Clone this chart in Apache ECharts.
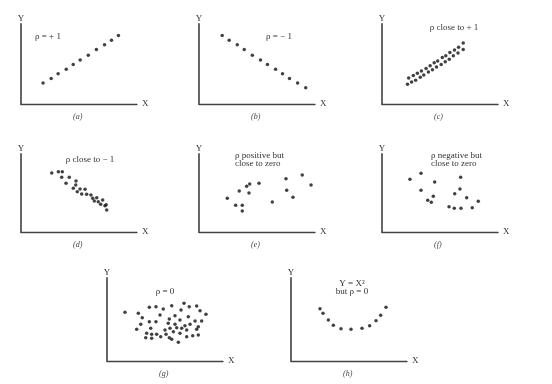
<!DOCTYPE html>
<html>
<head>
<meta charset="utf-8">
<script src="https://cdn.jsdelivr.net/npm/echarts@6/dist/echarts.min.js"></script>
<style>html,body{margin:0;padding:0;background:#fff}#c{width:552px;height:384px}</style>
</head>
<body>
<div id="c"></div>
<script>
// ---- data (arbitrary units) ----
var panelA = [[19,18],[26,22],[32,26],[39,30],[45,34],[51,38],[58,42],[65,47],[72,51],[78,55],[84,59]];
var panelB = [[20,59],[26,55],[33,51],[39,47],[46,42],[53,38],[59,34],[66,30],[72,26],[78,22],[85,18],[92,14]];
var panelC = [[23,22.5],[27,24.5],[30.5,26.5],[34,28.5],[38,30.5],[41.5,33],[45,35.5],[48,37],[52,40],[55,41.5],[58.5,44.5],[62.5,46.5],[66,49],[70,52.5],
              [22,17],[25.5,19],[29,20.5],[33,23],[36,25],[40,27.5],[43.5,29.5],[47,32],[51,34],[54.5,36.5],[58,38.5],[61.5,41.5],[65.5,44],[70,47]];
var panelD = [[26.5,50.9],[32.2,52],[35.6,52],[35.1,47.2],[41.6,47.2],[38.8,42],[47.4,44],[47.2,40.5],[45.1,37.7],[50.9,37.1],[55.2,36.8],[48.5,34.7],
              [52.3,32.8],[56.6,32.5],[60.3,31.9],[61.8,29.1],[65.3,29.6],[63.2,26.7],[66.6,26.1],[70.4,27.6],[68.7,23.9],[72.4,22.7],[73.9,19],[73.4,23.4]];
var panelE = [[24.4,29.1],[31.6,23],[37.3,23],[37.3,18.1],[34.7,35.3],[41.1,39.4],[43.7,41.4],[43.1,33.6],[51.7,42],[63.2,25.9],[75,45.9],[75.6,35.9],[81,29.9],[89,49.1],[96.6,40.5]];
var panelF = [[24.1,45.4],[33.6,50.6],[45.4,43.1],[67.8,47.2],[33.6,35.9],[67.2,37.1],[62.7,33],[44.2,30.8],[73,29.6],[39.4,27.3],[42.5,25.6],[83,26.5],[57.8,21.8],[62.3,20.4],[68.1,20.4],[77.8,20.9]];
var panelG = [[15.5,42],[27,41.1],[36.5,46.3],[42.2,46.8],[48.5,44.8],[55.8,47.7],[63.8,44],[66.4,49.7],[70.9,46.8],[77.3,47.4],[80.2,43.4],[85.3,40.3],
              [30.4,37.3],[45.7,39.7],[53.7,36.2],[58.6,39.1],[62.9,35.3],[70.1,38.2],[75.9,34.5],[81.6,34.5],[36.5,33.9],[42.2,33.9],[29.1,31.6],[52.8,32.5],
              [58.6,31.6],[67.2,30.4],[71.6,31.6],[78.7,29.6],[25.6,27.3],[37.7,28.2],[50,26.7],[54.3,28.2],[60.1,28.7],[64.4,28.2],[68.7,26.7],[77.3,27.3],
              [34.2,23.9],[38.5,23],[42.8,23],[50.9,23],[57.2,25.3],[62.9,23.9],[33.4,20.1],[38.5,19.6],[46.3,20.9],[53.7,20.1],[55.8,18.7],[68.7,20.9],
              [73.9,21.8],[78.7,22.4],[61.5,16.1]];
var panelH = [[25,45.1],[27.6,41.1],[32.2,35.3],[36.5,30.8],[43.1,27.8],[51.7,27.3],[61.2,28.2],[67.8,30.4],[73.3,34.7],[77.3,39.4],[81.9,46.3]];

var captions = ['(a)','(b)','(c)','(d)','(e)','(f)','(g)','(h)'];
var rhoLabels = [
  ['\u03C1 = + 1'],
  ['\u03C1 = \u2212 1'],
  ['\u03C1 close to + 1'],
  ['\u03C1 close to \u2212 1'],
  ['\u03C1 positive but','close to zero'],
  ['\u03C1 negative but','close to zero'],
  ['\u03C1 = 0'],
  ['Y = X\u00B2','but \u03C1 = 0']
];

// ---- layout ----
var PX = 1.16; // pixels per unit
var panels = [
  {data: panelA, left: 21,  top: 24,  h: 80, tx: 35,  ty: 37,  align: 'left'},
  {data: panelB, left: 199, top: 24,  h: 80, tx: 266, ty: 37,  align: 'left'},
  {data: panelC, left: 382, top: 24,  h: 80, tx: 454, ty: 28,  align: 'center'},
  {data: panelD, left: 21,  top: 154, h: 78, tx: 90,  ty: 160, align: 'center'},
  {data: panelE, left: 199, top: 154, h: 78, tx: 235, ty: 156, align: 'left'},
  {data: panelF, left: 382, top: 154, h: 78, tx: 431, ty: 156, align: 'left'},
  {data: panelG, left: 107, top: 278, h: 83, tx: 165, ty: 292, align: 'center'},
  {data: panelH, left: 291, top: 278, h: 83, tx: 352, ty: 284, align: 'center'}
];
var W = 116;
var serif = '"Liberation Serif","DejaVu Serif",serif';

var grids = [], xAxes = [], yAxes = [], series = [], graphics = [];
panels.forEach(function (p, i) {
  grids.push({left: p.left, top: p.top, width: W, height: p.h});
  xAxes.push({
    gridIndex: i, type: 'value', min: 0, max: W / PX,
    name: 'X', nameLocation: 'end', nameGap: 5,
    nameTextStyle: {fontFamily: serif, fontSize: 9, color: '#333', verticalAlign: 'middle'},
    axisLine: {show: true, onZero: false, lineStyle: {color: '#444', width: 1.3}},
    axisTick: {show: false}, axisLabel: {show: false}, splitLine: {show: false}
  });
  yAxes.push({
    gridIndex: i, type: 'value', min: 0, max: p.h / PX,
    name: 'Y', nameLocation: 'end', nameGap: 1,
    nameTextStyle: {fontFamily: serif, fontSize: 9, color: '#333', align: 'center'},
    axisLine: {show: true, onZero: false, lineStyle: {color: '#666', width: 2}},
    axisTick: {show: false}, axisLabel: {show: false}, splitLine: {show: false}
  });
  series.push({
    type: 'scatter', xAxisIndex: i, yAxisIndex: i, data: p.data,
    symbol: 'circle', symbolSize: 3.5, itemStyle: {color: '#111'}, silent: true
  });
  graphics.push({
    type: 'text', left: p.left + 58 - 6, top: p.top + p.h + 9,
    style: {text: captions[i], font: 'italic 8px ' + serif, fill: '#444'}
  });
  var lines = rhoLabels[i];
  lines.forEach(function (t, k) {
    graphics.push({
      type: 'text', x: p.tx, y: p.ty + k * 8,
      style: {text: t, font: '9px ' + serif, fill: '#333', align: p.align, verticalAlign: 'middle'}
    });
  });
});

var chart = echarts.init(document.getElementById('c'), null, {renderer: 'canvas'});
chart.setOption({
  animation: false,
  backgroundColor: '#fff',
  grid: grids, xAxis: xAxes, yAxis: yAxes, series: series, graphic: graphics
});
</script>
</body>
</html>
